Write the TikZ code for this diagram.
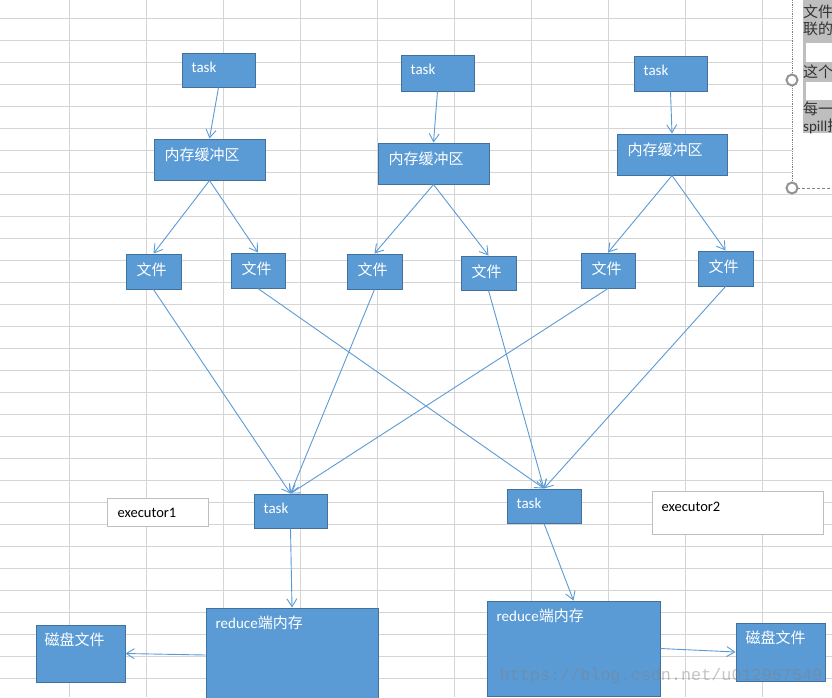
\documentclass[tikz,border=0pt]{standalone}
\usepackage{fontspec}
\setmainfont{Carlito}
\newfontfamily\cjk{Noto Sans CJK SC}
\newfontfamily\wmfont{Liberation Mono}
\usetikzlibrary{arrows.meta}

\definecolor{boxblue}{HTML}{5B9BD5}
\definecolor{boxedge}{HTML}{41719C}
\definecolor{gridgray}{HTML}{D4D4D4}
\definecolor{exedge}{HTML}{BFBFBF}
\definecolor{hlgray}{HTML}{BEBEBE}
\definecolor{hltext}{HTML}{333333}

\tikzset{
  blk/.style={draw=boxedge, fill=boxblue, line width=1pt, inner sep=0pt},
  exbox/.style={draw=exedge, fill=white, line width=1pt, inner sep=0pt},
  blktext/.style={anchor=west, inner sep=0pt, text=white, font=\fontsize{15}{18}\selectfont},
  extext/.style={anchor=west, inner sep=0pt, text=black, font=\fontsize{14.5}{18}\selectfont},
  hltxt/.style={anchor=west, inner sep=0pt, text=hltext, font=\fontsize{15}{16}\selectfont},
  link/.style={draw=boxblue, line width=0.9pt, -{Straight Barb[length=8pt,width=10pt]}},
  handle/.style={draw=gray!85, line width=2pt, fill=white},
  wm/.style={inner sep=0pt, text=gray, opacity=0.45, font=\wmfont\fontsize{16.8}{18}\selectfont}
}

\begin{document}
\begin{tikzpicture}[x=1pt, y=-1pt]
        \useasboundingbox (0,0) rectangle (832,697);
        \clip (0,0) rectangle (832,697);
        \fill[white] (0,0) rectangle (832,697);

        % sheet grid
        \foreach \x in {69,146,...,762}
            \draw[gridgray, line width=1pt] (\x,0) -- (\x,697);
        \foreach \y in {18,40,...,678}
            \draw[gridgray, line width=1pt] (0,\y) -- (832,\y);

        % map side
        \node[blk, minimum width=73pt, minimum height=34pt] (task1) at (218.5,70) {};
        \node[blk, minimum width=73pt, minimum height=36pt] (task2) at (437.5,73) {};
        \node[blk, minimum width=73pt, minimum height=35pt] (task3) at (670.5,73.5) {};
        \node[blktext] (task1 txt) at ([xshift=10pt,yshift=-15pt]task1.north west) {task};
        \node[blktext] (task2 txt) at ([xshift=10pt,yshift=-15pt]task2.north west) {task};
        \node[blktext] (task3 txt) at ([xshift=10pt,yshift=-15pt]task3.north west) {task};

        \node[blk, minimum width=111pt, minimum height=41pt] (buf1) at (209.5,159.5) {};
        \node[blk, minimum width=111pt, minimum height=41pt] (buf2) at (433.5,163.5) {};
        \node[blk, minimum width=110pt, minimum height=41pt] (buf3) at (672,154.5) {};
        \node[blktext] (buf1 txt) at ([xshift=11pt,yshift=-16pt]buf1.north west) {\cjk 内存缓冲区};
        \node[blktext] (buf2 txt) at ([xshift=11pt,yshift=-16pt]buf2.north west) {\cjk 内存缓冲区};
        \node[blktext] (buf3 txt) at ([xshift=11pt,yshift=-16pt]buf3.north west) {\cjk 内存缓冲区};

        \node[blk, minimum width=55pt, minimum height=35pt] (f1) at (153.5,271.5) {};
        \node[blk, minimum width=54pt, minimum height=35pt] (f2) at (258,270.5) {};
        \node[blk, minimum width=55pt, minimum height=35pt] (f3) at (374.5,271.5) {};
        \node[blk, minimum width=55pt, minimum height=34pt] (f4) at (488.5,273) {};
        \node[blk, minimum width=54pt, minimum height=35pt] (f5) at (608,270.5) {};
        \node[blk, minimum width=55pt, minimum height=35pt] (f6) at (725.5,268.5) {};
        \foreach \f in {f1,f2,f3,f4,f5,f6}
            \node[blktext] (\f txt) at ([xshift=11pt,yshift=-16pt]\f.north west) {\cjk 文件};

        % reduce side
        \node[exbox, minimum width=101pt, minimum height=28pt] (exec1) at (157.5,512) {};
        \node[exbox, minimum width=171pt, minimum height=43pt] (exec2) at (737.5,512.5) {};
        \node[extext] (exec1 txt) at ([xshift=11pt,yshift=-15pt]exec1.north west) {executor1};
        \node[extext] (exec2 txt) at ([xshift=10pt,yshift=-16pt]exec2.north west) {executor2};

        \node[blk, minimum width=73pt, minimum height=34pt] (taskA) at (290.5,511) {};
        \node[blk, minimum width=74pt, minimum height=34pt] (taskB) at (544,506) {};
        \node[blktext] (taskA txt) at ([xshift=10pt,yshift=-15pt]taskA.north west) {task};
        \node[blktext] (taskB txt) at ([xshift=10pt,yshift=-15pt]taskB.north west) {task};

        \node[blk, minimum width=172pt, minimum height=94pt] (red1) at (292,655) {};
        \node[blk, minimum width=173pt, minimum height=95pt] (red2) at (573.5,648.5) {};
        \node[blktext] (red1 txt) at ([xshift=10pt,yshift=-15pt]red1.north west) {reduce\cjk 端内存};
        \node[blktext] (red2 txt) at ([xshift=10pt,yshift=-15pt]red2.north west) {reduce\cjk 端内存};

        \node[blk, minimum width=89pt, minimum height=57pt] (disk1) at (80.5,653.5) {};
        \node[blk, minimum width=89pt, minimum height=58pt] (disk2) at (780.5,652) {};
        \node[blktext] (disk1 txt) at ([xshift=9pt,yshift=-15pt]disk1.north west) {\cjk 磁盘文件};
        \node[blktext] (disk2 txt) at ([xshift=10pt,yshift=-15pt]disk2.north west) {\cjk 磁盘文件};

        % connectors
        \draw[link] (task1.south) -- (buf1.north);
        \draw[link] (task2.south) -- (buf2.north);
        \draw[link] (task3.south) -- (buf3.north);
        \draw[link] (buf1.south) -- (f1.north);
        \draw[link] (buf1.south) -- (f2.north);
        \draw[link] (buf2.south) -- (f3.north);
        \draw[link] (buf2.south) -- (f4.north);
        \draw[link] (buf3.south) -- (f5.north);
        \draw[link] (buf3.south) -- (f6.north);
        \foreach \f in {f1,f3,f5}
            \draw[link] (\f.south) -- (taskA.north);
        \foreach \f in {f2,f4,f6}
            \draw[link] (\f.south) -- (taskB.north);
        \draw[link] (taskA.south) -- (red1.north);
        \draw[link] (taskB.south) -- (red2.north);
        \draw[link] (red1.west) -- (disk1.east);
        \draw[link] (red2.east) -- (disk2.west);

        % comment box, cut by the window edge
        \fill[white] (792,0) rectangle (832,188);
        \fill[hlgray] (803,0) rectangle (832,43);
        \fill[hlgray] (803,43) rectangle (806,62);
        \fill[hlgray] (803,62) rectangle (832,82);
        \fill[hlgray] (803,82) rectangle (806,100);
        \fill[hlgray] (803,100) rectangle (832,133);
        \node[hltxt] (note1) at (803,12) {\cjk 文件};
        \node[hltxt] (note2) at (803,29) {\cjk 联的};
        \node[hltxt] (note3) at (803,72) {\cjk 这个};
        \node[hltxt] (note4) at (803,109) {\cjk 每一};
        \node[hltxt] (note5) at (803,126) {spill\cjk 把};
        \draw[gray, densely dotted, line width=0.8pt] (792,0) -- (792,188);
        \draw[gray, densely dashed, line width=0.8pt] (797,188) -- (832,188);
        \draw[handle] (792,80) circle (5.5);
        \draw[handle] (792,188) circle (5.5);

        \node[wm] (wmark) at (661,676) {https://blog.csdn.net/u012957549};
    \end{tikzpicture}
\end{document}
